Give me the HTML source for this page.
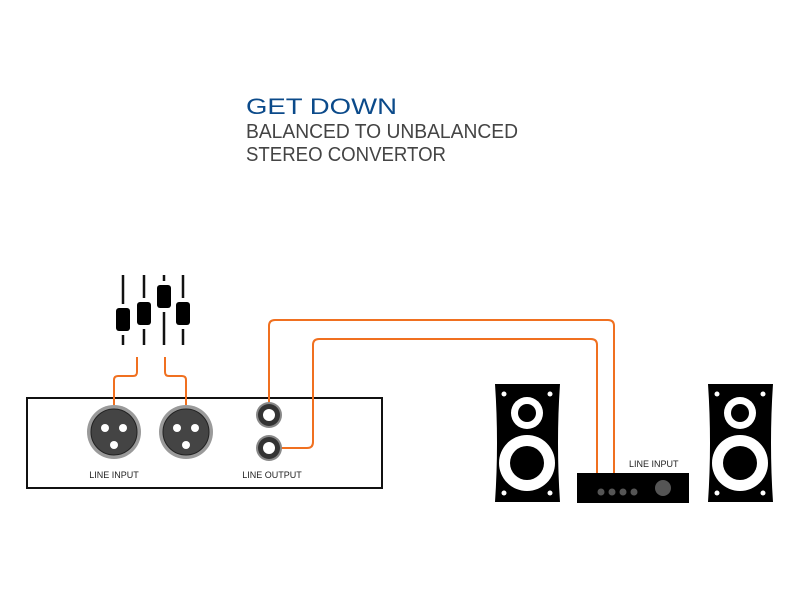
<!DOCTYPE html>
<html><head><meta charset="utf-8"><style>body{margin:0;background:#fff}svg{display:block}</style></head><body>
<svg width="800" height="600" viewBox="0 0 800 600" xmlns="http://www.w3.org/2000/svg" font-family="Liberation Sans, sans-serif">
<rect width="800" height="600" fill="#fff"/>
<text x="246" y="114" font-size="22" fill="#0b4a8a" textLength="151" lengthAdjust="spacingAndGlyphs">GET DOWN</text>
<text x="246" y="138" font-size="20" fill="#444" textLength="272" lengthAdjust="spacingAndGlyphs">BALANCED TO UNBALANCED</text>
<text x="246" y="161" font-size="20" fill="#444" textLength="200" lengthAdjust="spacingAndGlyphs">STEREO CONVERTOR</text>
<!-- faders -->
<g stroke="#111" stroke-width="2.5">
<line x1="123" y1="275" x2="123" y2="345"/><line x1="144" y1="275" x2="144" y2="345"/>
<line x1="164" y1="275" x2="164" y2="345"/><line x1="183" y1="275" x2="183" y2="345"/>
</g>
<g fill="#fff"><rect x="114" y="331" width="18" height="4"/><rect x="135" y="325" width="18" height="4"/><rect x="155" y="308" width="18" height="4"/><rect x="174" y="325" width="18" height="4"/>
<rect x="114" y="304" width="18" height="4"/><rect x="135" y="298" width="18" height="4"/><rect x="155" y="281" width="18" height="4"/><rect x="174" y="298" width="18" height="4"/></g>
<g fill="#000">
<rect x="116" y="308" width="14" height="23" rx="3"/>
<rect x="137" y="302" width="14" height="23" rx="3"/>
<rect x="157" y="285" width="14" height="23" rx="3"/>
<rect x="176" y="302" width="14" height="23" rx="3"/>
</g>
<!-- main box -->
<rect x="27" y="398" width="355" height="90" fill="#fff" stroke="#111" stroke-width="2"/>
<!-- orange cables -->
<g fill="none" stroke="#f07020" stroke-width="2">
<path d="M137 357 V372 q0 4 -4 4 H118 q-4 0 -4 4 V405"/>
<path d="M165 357 V372 q0 4 4 4 H182 q4 0 4 4 V405"/>
<path d="M269 402 V326 q0 -6 6 -6 H608 q6 0 6 6 V473"/>
<path d="M278 448 H307 q6 0 6 -6 V345 q0 -6 6 -6 H591 q6 0 6 6 V473"/>
</g>
<g>
<circle cx="114" cy="432" r="27" fill="#9a9a9a"/><circle cx="114" cy="432" r="23" fill="#444" stroke="#222" stroke-width="1"/>
<circle cx="105" cy="428" r="4" fill="#fff"/><circle cx="123" cy="428" r="4" fill="#fff"/><circle cx="114" cy="445" r="4" fill="#fff"/>
<circle cx="186" cy="432" r="27" fill="#9a9a9a"/><circle cx="186" cy="432" r="23" fill="#444" stroke="#222" stroke-width="1"/>
<circle cx="177" cy="428" r="4" fill="#fff"/><circle cx="195" cy="428" r="4" fill="#fff"/><circle cx="186" cy="445" r="4" fill="#fff"/>
<circle cx="269" cy="415" r="13" fill="#888"/><circle cx="269" cy="415" r="11" fill="#333"/><circle cx="269" cy="415" r="6" fill="#fff"/>
<circle cx="269" cy="448" r="13" fill="#888"/><circle cx="269" cy="448" r="11" fill="#333"/><circle cx="269" cy="448" r="6" fill="#fff"/>
</g>
<text x="114" y="478" font-size="9" fill="#222" text-anchor="middle">LINE INPUT</text>
<text x="272" y="478" font-size="9" fill="#222" text-anchor="middle">LINE OUTPUT</text>
<!-- speakers -->
<g id="spk">
<path d="M495 384 H560 Q556 443 560 502 H495 Q499 443 495 384 Z" fill="#000"/>
<circle cx="504" cy="394" r="2.5" fill="#fff"/><circle cx="550" cy="394" r="2.5" fill="#fff"/>
<circle cx="504" cy="493" r="2.5" fill="#fff"/><circle cx="550" cy="493" r="2.5" fill="#fff"/>
<circle cx="527" cy="413" r="16" fill="#fff"/><circle cx="527" cy="413" r="9" fill="#000"/>
<circle cx="527" cy="463" r="28" fill="#fff"/><circle cx="527" cy="463" r="17" fill="#000"/>
</g>
<use href="#spk" transform="translate(213 0)"/>
<!-- amp -->
<rect x="577" y="473" width="112" height="30" fill="#000"/>
<g fill="#555"><circle cx="601" cy="492" r="3.5"/><circle cx="612" cy="492" r="3.5"/><circle cx="623" cy="492" r="3.5"/><circle cx="634" cy="492" r="3.5"/></g>
<circle cx="663" cy="488" r="8" fill="#555"/>
<text x="629" y="467" font-size="9" fill="#222">LINE INPUT</text>
</svg>
</body></html>
